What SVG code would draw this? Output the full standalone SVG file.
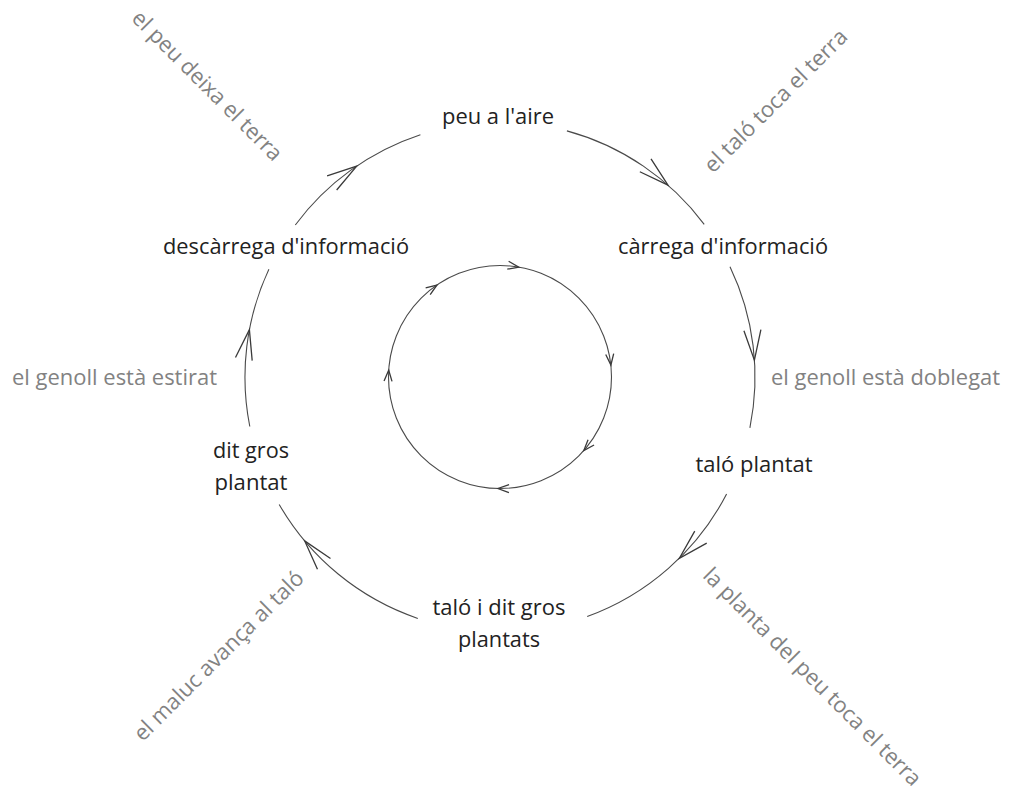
<svg xmlns="http://www.w3.org/2000/svg" width="1009" height="793" viewBox="0 0 1009 793">
<style>
  .lbl{font-family:"Open Sans","Liberation Sans",sans-serif;font-size:22px;fill:#222;text-anchor:middle}
  .note{font-family:"Open Sans","Liberation Sans",sans-serif;font-size:22px;fill:#828282;text-anchor:middle}
  .arc{fill:none;stroke:#4a4a4a;stroke-width:1.1}
  .chev{fill:none;stroke:#3a3a3a;stroke-width:1.3;stroke-linejoin:miter}
</style>
<defs>
  <path id="bigchev" class="chev" d="M-30,-8.5 L0,0 L-30,8.5"/>
  <path id="smallchev" class="chev" d="M-11,-4 L0,0 L-11,4"/>
</defs>
<rect width="1009" height="793" fill="#fff"/>

<g id="connectors">
  <path class="arc" d="M295.3,225.0 A255,255 0 0 1 420.4,134.7"/>
  <path class="arc" d="M566.9,130.9 A255,255 0 0 1 704.2,224.3"/>
  <path class="arc" d="M730.0,266.8 A255,255 0 0 1 749.9,427.8"/>
  <path class="arc" d="M726.6,494.0 A255,255 0 0 1 587.2,616.6"/>
  <path class="arc" d="M417.8,618.4 A255,255 0 0 1 279.2,504.5"/>
  <path class="arc" d="M249.8,426.5 A255,255 0 0 1 268.9,269.2"/>
  <use href="#bigchev" transform="translate(356.7,166.1) rotate(-34.2)"/>
  <use href="#bigchev" transform="translate(668.0,185.1) rotate(41.2)"/>
  <use href="#bigchev" transform="translate(754.4,360.1) rotate(86.2)"/>
  <use href="#bigchev" transform="translate(679.4,558.2) rotate(135.3)"/>
  <use href="#bigchev" transform="translate(304.7,540.9) rotate(230)"/>
  <use href="#bigchev" transform="translate(249.4,329.6) rotate(280.7)"/>
  <circle class="arc" cx="500" cy="377" r="111.5"/>
  <use href="#smallchev" transform="translate(518.8,267.1) rotate(9.7)"/>
  <use href="#smallchev" transform="translate(437.0,285.0) rotate(-34.4)"/>
  <use href="#smallchev" transform="translate(610.9,365.0) rotate(83.8)"/>
  <use href="#smallchev" transform="translate(583.8,450.6) rotate(131.3)"/>
  <use href="#smallchev" transform="translate(498.0,488.5) rotate(181)"/>
  <use href="#smallchev" transform="translate(388.7,370.2) rotate(273.5)"/>
</g>

<g id="node-peu-aire"><text class="lbl" x="498" y="124" textLength="112" lengthAdjust="spacingAndGlyphs">peu a l'aire</text></g>
<g id="node-carrega"><text class="lbl" x="723" y="254" textLength="210" lengthAdjust="spacingAndGlyphs">càrrega d'informació</text></g>
<g id="node-talo-plantat"><text class="lbl" x="754" y="472" textLength="117" lengthAdjust="spacingAndGlyphs">taló plantat</text></g>
<g id="node-talo-dit"><text class="lbl" x="499" y="615" textLength="133" lengthAdjust="spacingAndGlyphs">taló i dit gros</text><text class="lbl" x="499" y="647" textLength="82" lengthAdjust="spacingAndGlyphs">plantats</text></g>
<g id="node-dit-gros"><text class="lbl" x="251" y="458" textLength="76" lengthAdjust="spacingAndGlyphs">dit gros</text><text class="lbl" x="251" y="490" textLength="73" lengthAdjust="spacingAndGlyphs">plantat</text></g>
<g id="node-descarrega"><text class="lbl" x="286" y="254" textLength="246" lengthAdjust="spacingAndGlyphs">descàrrega d'informació</text></g>

<g id="notes">
  <text class="note" transform="translate(202,91) rotate(45)" textLength="202" lengthAdjust="spacingAndGlyphs">el peu deixa el terra</text>
  <text class="note" transform="translate(781,106) rotate(-45)" textLength="192" lengthAdjust="spacingAndGlyphs">el taló toca el terra</text>
  <text class="note" x="885.5" y="385" textLength="229" lengthAdjust="spacingAndGlyphs">el genoll està doblegat</text>
  <text class="note" transform="translate(807,682) rotate(45)" textLength="298" lengthAdjust="spacingAndGlyphs">la planta del peu toca el terra</text>
  <text class="note" transform="translate(224,661) rotate(-45)" textLength="230" lengthAdjust="spacingAndGlyphs">el maluc avança al taló</text>
  <text class="note" x="114.5" y="385" textLength="205" lengthAdjust="spacingAndGlyphs">el genoll està estirat</text>
</g>
</svg>
